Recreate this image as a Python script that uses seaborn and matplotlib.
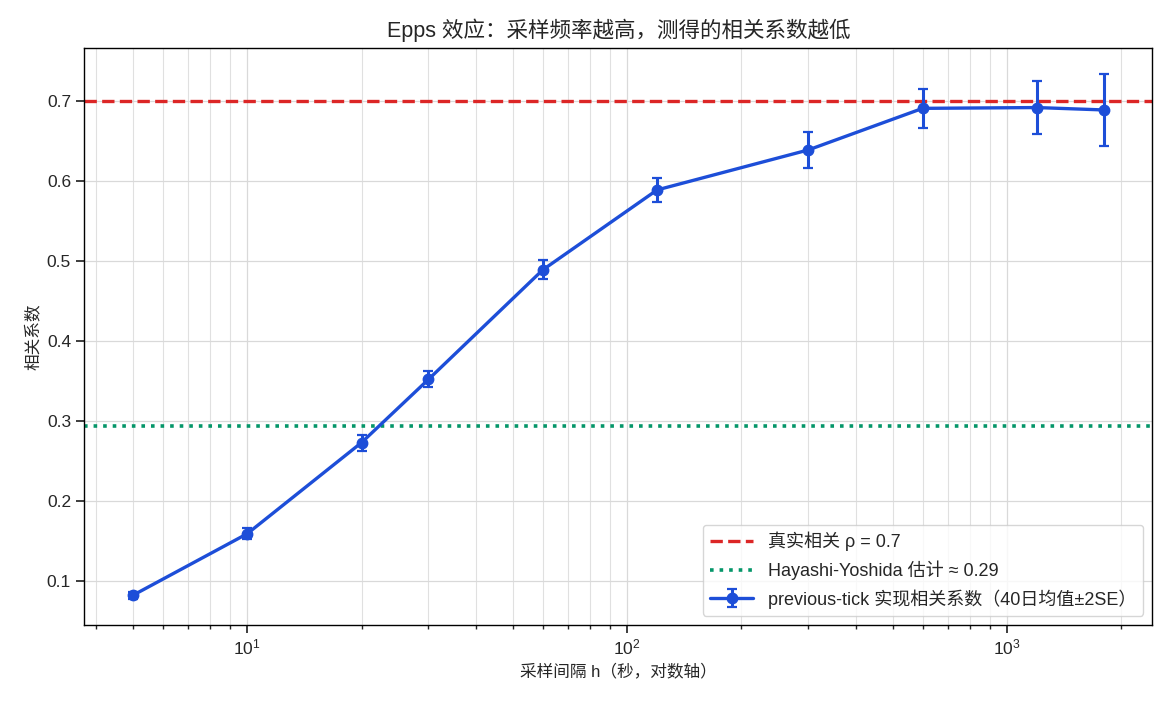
import numpy as np
import pandas as pd
import seaborn as sns
import matplotlib.pyplot as plt

# sampling interval (s), mean previous-tick correlation, 2SE
h_sec = [5, 10, 20, 30, 60, 120, 300, 600, 1200, 1800]
rho_prev = [0.082, 0.159, 0.273, 0.352, 0.489, 0.589, 0.639, 0.691, 0.692, 0.689]
two_se = [0.004, 0.007, 0.010, 0.010, 0.012, 0.015, 0.022, 0.024, 0.033, 0.045]
rho_true = 0.7
rho_hy = 0.294

df = pd.DataFrame({"h": h_sec, "rho": rho_prev, "err": two_se})

sns.set_theme(style="ticks", rc={"axes.linewidth": 1, "axes.edgecolor": "black"})
plt.rcParams["font.family"] = ["Liberation Sans", "Noto Sans CJK SC", "DejaVu Sans"]
plt.rcParams["axes.unicode_minus"] = False

blue = "#1d4ed8"
red = "#dc2626"
green = "#059669"

fig, ax = plt.subplots(figsize=(11.7, 7.02), dpi=100)
fig.subplots_adjust(left=0.072, right=0.985, top=0.932, bottom=0.110)

ax.axhline(rho_true, color=red, ls="--", lw=2.4, label="真实相关 ρ = 0.7")
ax.axhline(rho_hy, color=green, ls=":", lw=2.6, label="Hayashi-Yoshida 估计 ≈ 0.29")
ax.errorbar(df["h"], df["rho"], yerr=df["err"], fmt="-o", color=blue, lw=2.4,
            ms=7.5, capsize=3.5, elinewidth=2.2, capthick=1.6,
            label="previous-tick 实现相关系数（40日均值±2SE）")

ax.set_xscale("log")
ax.grid(True, which="major", color="#d9d9d9", lw=0.9)
ax.grid(True, which="minor", axis="x", color="#e0e0e0", lw=0.8)
ax.set_axisbelow(True)

ax.set_xlabel("采样间隔 h（秒，对数轴）", fontsize=12)
ax.set_ylabel("相关系数", fontsize=12)
ax.set_title("Epps 效应：采样频率越高，测得的相关系数越低", fontsize=15.5, pad=8)
ax.tick_params(labelsize=12.5)
ax.tick_params(which="minor", length=3)
ax.legend(loc="lower right", fontsize=13, frameon=True, fancybox=True,
          handlelength=2.4)

fig.savefig("out.png", dpi=100)
